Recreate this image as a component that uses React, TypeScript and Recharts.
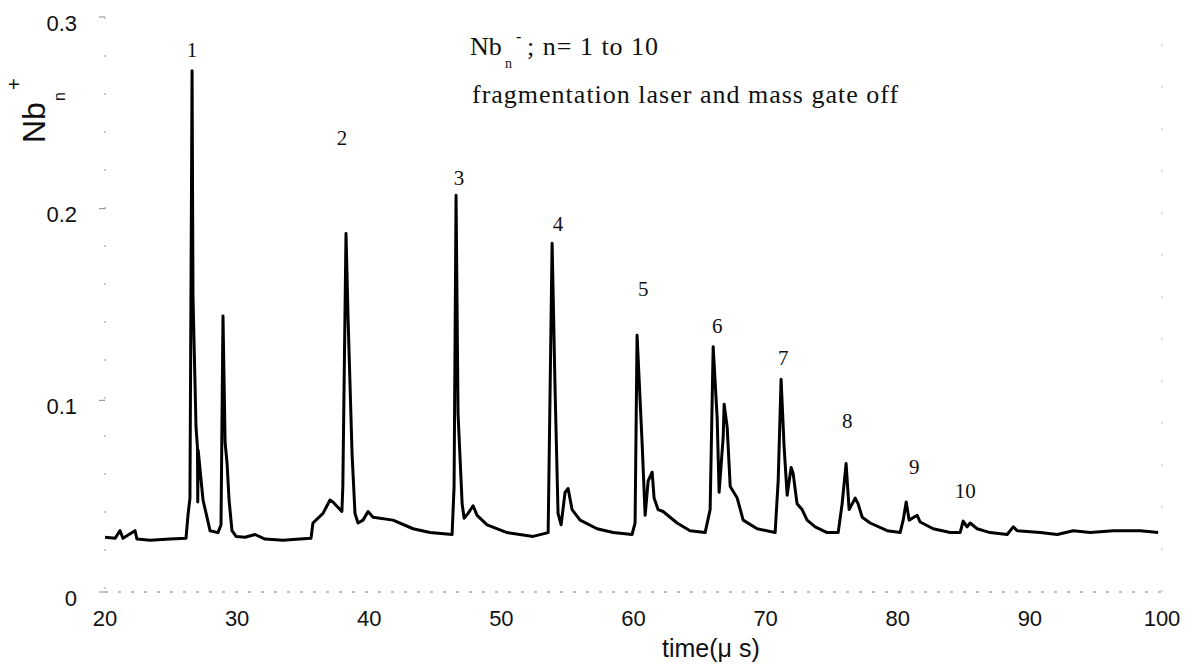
import { ComposedChart, Line, Scatter, XAxis, YAxis, ReferenceLine } from 'recharts'

const timeUs = [
  20.0, 20.76, 21.14, 21.36, 22.27, 22.42, 23.41, 24.92, 26.13, 26.28, 26.43, 26.59, 26.66, 26.89, 27.0, 27.02,
  27.05, 27.42, 27.95, 28.55, 28.78, 28.93, 29.09, 29.24, 29.39, 29.61, 29.92, 30.6, 31.36, 32.11, 33.47, 34.76,
  35.59, 35.74, 36.5, 37.03, 37.25, 37.93, 38.0, 38.24, 38.4, 38.7, 38.92, 39.15, 39.53, 39.91, 40.29, 41.8,
  43.32, 44.6, 46.27, 46.42, 46.57, 46.72, 47.03, 47.18, 47.48, 47.86, 48.16, 48.92, 50.43, 52.4, 53.54, 53.84,
  54.07, 54.29, 54.52, 54.82, 55.05, 55.35, 55.96, 57.24, 58.46, 59.89, 60.12, 60.27, 60.65, 60.88, 61.11, 61.41,
  61.56, 61.86, 62.24, 63.3, 64.28, 65.42, 65.8, 66.03, 66.33, 66.48, 66.79, 66.86, 67.09, 67.32, 67.85, 68.3,
  69.36, 70.72, 70.95, 71.17, 71.4, 71.63, 71.93, 72.08, 72.38, 72.76, 73.14, 73.75, 74.66, 75.49, 75.79, 76.09,
  76.32, 76.78, 77.0, 77.31, 77.91, 79.2, 80.18, 80.41, 80.64, 80.86, 81.47, 81.7, 82.68, 83.97, 84.72, 84.95,
  85.25, 85.48, 86.01, 86.99, 88.28, 88.74, 89.04, 90.78, 92.07, 93.28, 94.57, 96.31, 98.35, 99.71,
]

const signal = [
  0.0286, 0.028, 0.032, 0.028, 0.032, 0.0276, 0.027, 0.0276, 0.028, 0.04, 0.049, 0.272, 0.154, 0.086, 0.075, 0.047,
  0.074, 0.048, 0.032, 0.031, 0.035, 0.144, 0.078, 0.067, 0.048, 0.032, 0.029, 0.0286, 0.03, 0.0276, 0.027, 0.0276,
  0.028, 0.036, 0.041, 0.048, 0.047, 0.042, 0.055, 0.187, 0.142, 0.072, 0.041, 0.036, 0.0375, 0.042, 0.039, 0.0375,
  0.033, 0.031, 0.03, 0.055, 0.207, 0.093, 0.046, 0.0385, 0.041, 0.045, 0.04, 0.035, 0.031, 0.029, 0.031, 0.182,
  0.104, 0.041, 0.035, 0.052, 0.054, 0.043, 0.0375, 0.033, 0.031, 0.03, 0.036, 0.134, 0.078, 0.04, 0.058, 0.0625,
  0.049, 0.043, 0.042, 0.036, 0.032, 0.031, 0.043, 0.128, 0.091, 0.052, 0.081, 0.098, 0.086, 0.055, 0.049, 0.0375,
  0.033, 0.031, 0.058, 0.111, 0.0755, 0.0505, 0.065, 0.062, 0.046, 0.043, 0.0375, 0.034, 0.031, 0.031, 0.046, 0.067,
  0.043, 0.049, 0.046, 0.039, 0.036, 0.032, 0.031, 0.0375, 0.047, 0.0375, 0.04, 0.0365, 0.033, 0.031, 0.031, 0.037,
  0.034, 0.036, 0.033, 0.031, 0.03, 0.034, 0.032, 0.031, 0.03, 0.032, 0.031, 0.032, 0.032, 0.031,
]

// cluster size labels sit above each peak, placed in data units
const peakNumbers = ['1', '2', '3', '4', '5', '6', '7', '8', '9', '10']
const peakLabelTime = [26.59, 37.94, 46.8, 54.29, 60.73, 66.33, 71.33, 76.17, 81.24, 85.1]
const peakLabelLevel = [0.283, 0.237, 0.216, 0.192, 0.158, 0.139, 0.122, 0.089, 0.065, 0.0526]

const xTicks = [20, 30, 40, 50, 60, 70, 80, 90, 100]
const yTicks = [0, 0.1, 0.2, 0.3]

const SANS = '"Liberation Sans", Arial, sans-serif'
const SERIF = '"Liberation Serif", "Times New Roman", serif'

const trace = timeUs.map((t, i) => ({ t, v: signal[i] }))
const peakLabels = peakNumbers.map((label, i) => ({ t: peakLabelTime[i], v: peakLabelLevel[i], label }))

function YTick({ x, y, payload }: any) {
  const v = payload.value as number
  return (
    <text x={x} y={y + 6} textAnchor="end" dominantBaseline="central" fontSize={22} fontFamily={SANS} fill="#111">
      {v === 0 ? '0' : v.toFixed(1)}
    </text>
  )
}

function PeakLabel(props: any) {
  const { cx, cy, payload } = props
  return (
    <text x={cx} y={cy} textAnchor="middle" dominantBaseline="central" fontSize={21} fontFamily={SERIF} fill="#111">
      {payload.label}
    </text>
  )
}

export default function App() {
  return (
    <div style={{ position: 'absolute', left: 0, top: 0, width: 1189, height: 666, background: '#fff' }}>
      <ComposedChart width={1189} height={666} margin={{ top: 17, right: 27, bottom: 0, left: 0 }}>
        <XAxis
          type="number"
          dataKey="t"
          domain={[20, 100]}
          ticks={xTicks}
          allowDataOverflow
          height={74}
          tickLine={false}
          tickSize={6}
          tickMargin={12}
          axisLine={{ stroke: '#777', strokeDasharray: '3 10' }}
          tick={{ fontSize: 22, fontFamily: SANS, fill: '#111' }}
        />
        <YAxis
          type="number"
          domain={[0, 0.3]}
          ticks={yTicks}
          width={105}
          tickSize={6}
          tickMargin={22}
          axisLine={{ stroke: '#999', strokeDasharray: '2 36' }}
          tickLine={{ stroke: '#888' }}
          tick={<YTick />}
        />
        <ReferenceLine x={100} stroke="#bbb" strokeDasharray="2 40" />
        <Line
          data={trace}
          dataKey="v"
          type="linear"
          stroke="#000"
          strokeWidth={3}
          strokeLinejoin="round"
          dot={false}
          isAnimationActive={false}
        />
        <Scatter data={peakLabels} dataKey="v" shape={<PeakLabel />} isAnimationActive={false} />
      </ComposedChart>
      <svg
        width={1189}
        height={666}
        style={{ position: 'absolute', left: 0, top: 0, pointerEvents: 'none' }}
      >
        <g transform="translate(45,143) rotate(-90)" fontFamily={SANS} fill="#111">
          <text x={0} y={0} fontSize={32}>Nb</text>
          <text x={53} y={-24} fontSize={20}>+</text>
          <text x={42} y={20} fontSize={16}>n</text>
        </g>
        <g fontFamily={SERIF} fill="#111">
          <text x={470} y={55} fontSize={26}>Nb</text>
          <text x={505} y={68} fontSize={14}>n</text>
          <text x={516} y={42} fontSize={16}>-</text>
          <text x={527} y={55} fontSize={26} letterSpacing={1}>; n= 1 to 10</text>
          <text x={472} y={103} fontSize={26} letterSpacing={1}>fragmentation laser and mass gate off</text>
        </g>
        <text x={662} y={657} fontSize={25} fontFamily={SANS} fill="#111">time(μ s)</text>
      </svg>
    </div>
  )
}
